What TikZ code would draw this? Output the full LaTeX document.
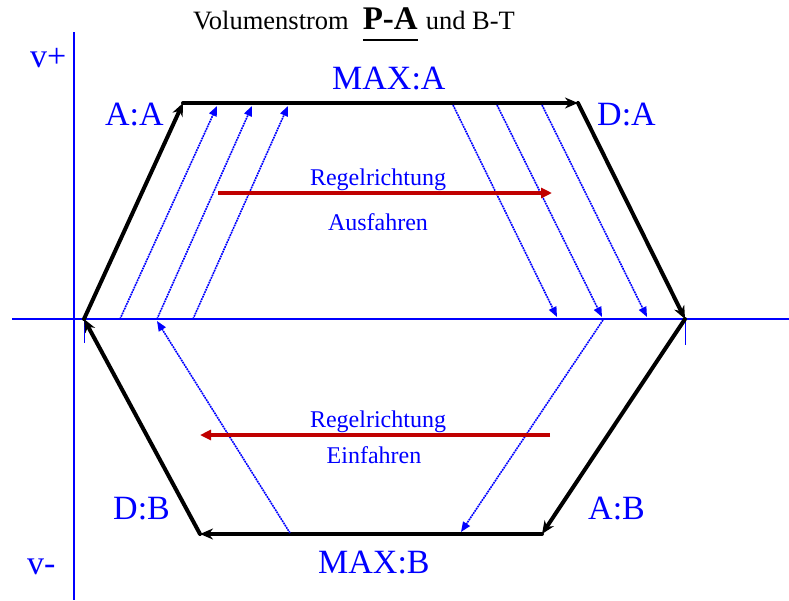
\documentclass[tikz,border=0pt]{standalone}
\usepackage{fontspec}
\setmainfont{Liberation Serif}
\usetikzlibrary{arrows.meta}
\definecolor{myblue}{RGB}{0,0,255}
\definecolor{myred}{RGB}{192,0,0}
\newcommand\myunderl[1]{\setbox0\hbox{#1}\rlap{\rule[-12pt]{\wd0}{2pt}}\box0\relax}
\begin{document}
\begin{tikzpicture}[x=1pt,y=-1pt,
 axis/.style={myblue,line width=2pt},
 tickmark/.style={myblue,line width=1pt},
 edge/.style={line width=4pt,line cap=round,-{Stealth[length=13pt,width=11pt]}},
 flow/.style={myblue,line width=1.6pt,dash pattern=on 1.8pt off 0.8pt,-{Triangle[length=10pt,width=8pt]}},
 ctrl/.style={myred,line width=3.5pt,-{Triangle[length=11pt,width=10pt]}},
 biglbl/.style={myblue,font=\fontsize{34}{40}\selectfont,inner sep=0,anchor=base west},
 smalllbl/.style={myblue,font=\fontsize{24}{28}\selectfont,inner sep=0,anchor=base},
]
\useasboundingbox (0,0) rectangle (789,600);
% axes
\coordinate (ytop) at (74,32);
\coordinate (ybot) at (74,600);
\coordinate (xl) at (12,319);
\coordinate (xr) at (789,319);
\draw[axis] (ytop) -- (ybot);
\draw[axis] (xl) -- (xr);
% hexagon
\coordinate (L) at (84,319);
\coordinate (TL) at (183,103);
\coordinate (TR) at (578,103);
\coordinate (R) at (685,319);
\coordinate (BR) at (542,534);
\coordinate (BL) at (200,534);
\coordinate (t1) at (84,343);
\coordinate (t2) at (685,345);
\draw[tickmark] (L) -- (t1);
\draw[tickmark] (R) -- (t2);
\draw[edge] (L) -- (TL);
\draw[edge] (TL) -- (TR);
\draw[edge] (TR) -- (R);
\draw[edge] (R) -- (BR);
\draw[edge] (BR) -- (BL);
\draw[edge] (BL) -- (L);
% blue flow arrows
\coordinate (u1s) at (120,319); \coordinate (u1e) at (217,106);
\coordinate (u2s) at (157,319); \coordinate (u2e) at (252,106);
\coordinate (u3s) at (193,319); \coordinate (u3e) at (288,106);
\draw[flow] (u1s) -- (u1e);
\draw[flow] (u2s) -- (u2e);
\draw[flow] (u3s) -- (u3e);
\coordinate (d1s) at (453,105); \coordinate (d1e) at (557,317);
\coordinate (d2s) at (497,105); \coordinate (d2e) at (602,317);
\coordinate (d3s) at (542,105); \coordinate (d3e) at (647,317);
\draw[flow] (d1s) -- (d1e);
\draw[flow] (d2s) -- (d2e);
\draw[flow] (d3s) -- (d3e);
\coordinate (b1s) at (603,320); \coordinate (b1e) at (461,532);
\coordinate (b2s) at (290,533); \coordinate (b2e) at (157,321);
\draw[flow] (b1s) -- (b1e);
\draw[flow] (b2s) -- (b2e);
% red arrows
\coordinate (r1s) at (218,193); \coordinate (r1e) at (552,193);
\coordinate (r2s) at (550,435); \coordinate (r2e) at (200,435);
\draw[ctrl] (r1s) -- (r1e);
\draw[ctrl] (r2s) -- (r2e);
% labels
\node[biglbl] (vp) at (30,67) {v+};
\node[biglbl] (vm) at (27,574) {v-};
\node[biglbl] (AA) at (105,125) {A:A};
\node[biglbl] (MA) at (332,89) {MAX:A};
\node[biglbl] (DA) at (597,125) {D:A};
\node[biglbl] (DB) at (113,519) {D:B};
\node[biglbl] (MB) at (318,573) {MAX:B};
\node[biglbl] (AB) at (588,519) {A:B};
\node[smalllbl] (rr1) at (378,185) {Regelrichtung};
\node[smalllbl] (aus) at (378,230) {Ausfahren};
\node[smalllbl] (rr2) at (378,427) {Regelrichtung};
\node[smalllbl] (ein) at (374,463) {Einfahren};
\node[inner sep=0,anchor=base west] (title) at (193,29)
 {\fontsize{26.5}{30}\selectfont Volumenstrom\hspace{14pt}\myunderl{\fontsize{33}{36}\selectfont\bfseries P-A}\hspace{8pt}und B-T};
\end{tikzpicture}
\end{document}
